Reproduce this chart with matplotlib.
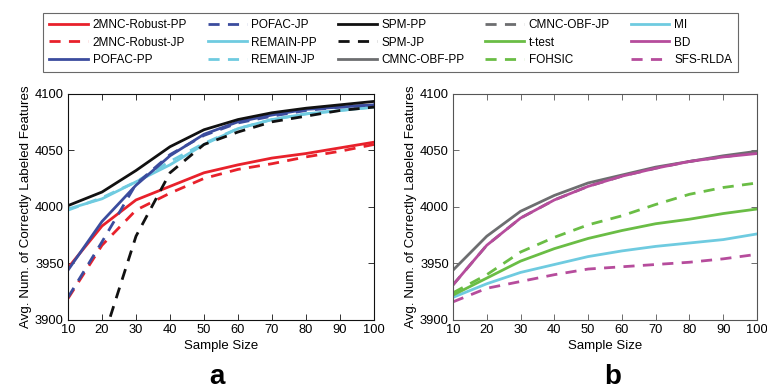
import matplotlib
matplotlib.use("Agg")
import matplotlib.pyplot as plt

# =====================================================
# DATA
# =====================================================

sample_size = [10, 20, 30, 40, 50, 60, 70, 80, 90, 100]

# panel a
mnc_robust_pp = [3946, 3983, 4006, 4018, 4030, 4037, 4043, 4047, 4052, 4057]
mnc_robust_jp = [3919, 3966, 3997, 4012, 4025, 4033, 4038, 4044, 4049, 4055]
pofac_pp = [3944, 3987, 4019, 4045, 4064, 4075, 4081, 4086, 4088, 4090]
pofac_jp = [3920, 3969, 4020, 4046, 4063, 4074, 4080, 4085, 4088, 4090]
remain_pp = [3998, 4007, 4022, 4037, 4055, 4069, 4077, 4082, 4085, 4088]
remain_jp = [3997, 4008, 4022, 4040, 4056, 4069, 4077, 4082, 4085, 4088]
spm_pp = [4001, 4013, 4032, 4053, 4068, 4077, 4083, 4087, 4090, 4093]
spm_jp = [3800, 3880, 3974, 4030, 4055, 4066, 4075, 4080, 4085, 4088]

# panel b
cmnc_obf_pp = [3944, 3974, 3996, 4010, 4021, 4028, 4035, 4040, 4045, 4049]
cmnc_obf_jp = [3931, 3966, 3990, 4006, 4018, 4027, 4034, 4040, 4044, 4048]
t_test = [3922, 3937, 3952, 3963, 3972, 3979, 3985, 3989, 3994, 3998]
fohsic = [3924, 3940, 3960, 3973, 3984, 3992, 4002, 4011, 4017, 4021]
mi = [3920, 3932, 3942, 3949, 3956, 3961, 3965, 3968, 3971, 3976]
bd = [3931, 3966, 3990, 4006, 4018, 4027, 4034, 4040, 4044, 4047]
sfs_rlda = [3916, 3928, 3934, 3940, 3945, 3947, 3949, 3951, 3954, 3958]

RED = "#e8212b"
BLUE = "#3b4c9e"
CYAN = "#6fcbe0"
BLACK = "#111111"
GRAY = "#6d6e70"
GREEN = "#6abd45"
MAGENTA = "#b64c9c"

DASH = (0, (4, 3))
LW = 2.0

plt.rcParams["font.family"] = ["Liberation Sans", "DejaVu Sans"]

fig = plt.figure(figsize=(7.67, 3.89), dpi=100)
ax_a = fig.add_axes([68 / 767, 1 - 320 / 389, 306 / 767, 226.5 / 389])
ax_b = fig.add_axes([453 / 767, 1 - 320 / 389, 304 / 767, 226.5 / 389])

handles = {}

# =====================================================
# PANEL A
# =====================================================

handles["2MNC-Robust-PP"], = ax_a.plot(sample_size, mnc_robust_pp, color=RED, lw=LW)
handles["2MNC-Robust-JP"], = ax_a.plot(sample_size, mnc_robust_jp, color=RED, lw=LW, ls=DASH)
handles["REMAIN-PP"], = ax_a.plot(sample_size, remain_pp, color=CYAN, lw=LW)
handles["REMAIN-JP"], = ax_a.plot(sample_size, remain_jp, color=CYAN, lw=LW, ls=DASH)
handles["POFAC-PP"], = ax_a.plot(sample_size, pofac_pp, color=BLUE, lw=LW)
handles["POFAC-JP"], = ax_a.plot(sample_size, pofac_jp, color=BLUE, lw=LW, ls=DASH)
handles["SPM-PP"], = ax_a.plot(sample_size, spm_pp, color=BLACK, lw=LW)
handles["SPM-JP"], = ax_a.plot(sample_size, spm_jp, color=BLACK, lw=LW, ls=DASH)

# =====================================================
# PANEL B
# =====================================================

handles["SFS-RLDA"], = ax_b.plot(sample_size, sfs_rlda, color=MAGENTA, lw=LW, ls=DASH)
handles["MI"], = ax_b.plot(sample_size, mi, color=CYAN, lw=LW)
handles["t-test"], = ax_b.plot(sample_size, t_test, color=GREEN, lw=LW)
handles["FOHSIC"], = ax_b.plot(sample_size, fohsic, color=GREEN, lw=LW, ls=DASH)
handles["CMNC-OBF-PP"], = ax_b.plot(sample_size, cmnc_obf_pp, color=GRAY, lw=LW)
handles["CMNC-OBF-JP"], = ax_b.plot(sample_size, cmnc_obf_jp, color=GRAY, lw=LW, ls=DASH)
handles["BD"], = ax_b.plot(sample_size, bd, color=MAGENTA, lw=LW)

for ax, edge in [(ax_a, "#111111"), (ax_b, "#555555")]:
    ax.set_xlim(10, 100)
    ax.set_ylim(3900, 4100)
    ax.set_xticks(range(10, 101, 10))
    ax.set_yticks(range(3900, 4101, 50))
    ax.tick_params(direction="in", top=True, right=True, labelsize=9.3,
                   length=4, width=0.6, color=edge, pad=3)
    for sp in ax.spines.values():
        sp.set_color(edge)
        sp.set_linewidth(0.8)
    ax.set_xlabel("Sample Size", fontsize=9.5, labelpad=3)
    ax.set_ylabel("Avg. Num. of Correctly Labeled Features", fontsize=9.6, labelpad=2)

fig.text(217 / 767, 1 - 384 / 389, "a", fontsize=20, fontweight="bold",
         ha="center", va="baseline")
fig.text(613 / 767, 1 - 384 / 389, "b", fontsize=20, fontweight="bold",
         ha="center", va="baseline")

# =====================================================
# LEGEND
# =====================================================

legend_order = [
    "2MNC-Robust-PP", "2MNC-Robust-JP", "POFAC-PP",
    "POFAC-JP", "REMAIN-PP", "REMAIN-JP",
    "SPM-PP", "SPM-JP", "CMNC-OBF-PP",
    "CMNC-OBF-JP", "t-test", "FOHSIC",
    "MI", "BD", "SFS-RLDA",
]

leg = fig.legend(
    [handles[k] for k in legend_order], legend_order,
    ncol=5, loc="upper left",
    bbox_to_anchor=(43 / 767, 1 - 13 / 389),
    borderaxespad=0,
    fontsize=8.5, frameon=True, fancybox=False,
    handlelength=3.3, handletextpad=0.4, columnspacing=1.75,
    labelspacing=0.48, borderpad=0.5,
)
leg.get_frame().set_edgecolor("#444444")
leg.get_frame().set_linewidth(0.8)

fig.savefig("out.png", dpi=100)
